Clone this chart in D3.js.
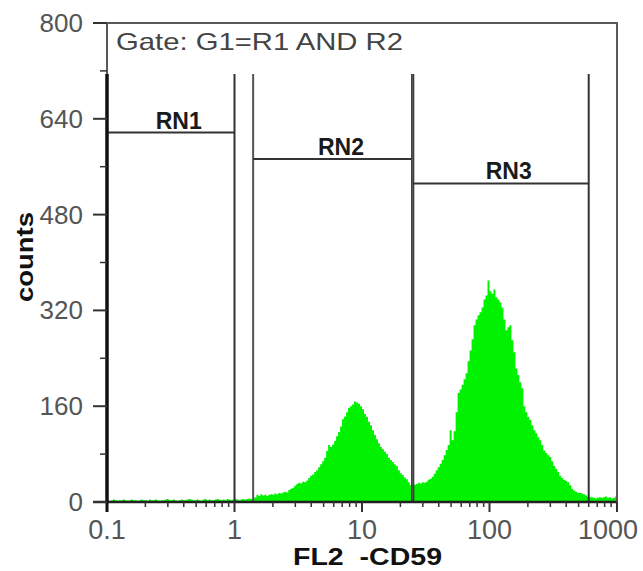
<!DOCTYPE html>
<html><head><meta charset="utf-8">
<script src="https://cdn.jsdelivr.net/npm/d3@7"></script>
<style>html,body{margin:0;padding:0;background:#fff;}svg{display:block;}text{white-space:pre;}</style>
</head><body>
<script>
// ---- data ----
const binsPerDecade = 64;
const xDomain = [0.1, 1000];
const yDomain = [0, 800];
const xTickValues = [0.1, 1, 10, 100, 1000];
const xTickLabels = ["0.1", "1", "10", "100", "1000"];
const yTickValues = [0, 160, 320, 480, 640, 800];
const yTickLabels = ["0", "160", "320", "480", "640", "800"];
const yMinorTicks = [80, 240, 400, 560, 720];
const counts = [
 3,2,3,4,3,2,3,3,4,3,2,3,4,3,3,2,
 3,4,3,3,2,4,3,3,4,3,2,3,3,4,5,3,
 3,4,3,2,3,4,3,3,4,5,4,3,3,4,3,2,
 4,5,3,4,3,3,4,5,4,3,4,3,5,4,3,4,
 5,4,3,4,5,4,5,6,5,6,8,12,10,13,11,12,
 10,12,13,12,14,13,15,14,16,17,16,20,22,24,27,30,
 32,31,34,33,36,40,44,46,50,53,58,63,68,74,85,95,
 92,96,102,110,117,126,138,143,150,157,160,163,168,166,164,160,
 155,147,142,134,128,120,112,105,98,92,88,84,80,74,70,67,
 63,60,53,48,45,41,38,33,28,27,29,30,32,31,33,32,
 34,37,39,42,47,53,58,64,70,78,87,95,120,103,118,150,
 182,188,196,205,215,235,253,272,295,305,312,317,325,338,345,370,
 352,348,355,342,338,333,325,305,287,292,295,270,250,223,212,200,
 190,160,150,142,137,128,120,115,108,103,95,86,82,78,75,68,
 60,55,50,44,40,37,35,33,28,22,19,17,15,15,14,13,
 11,9,8,8,7,6,7,8,7,8,9,7,8,6,7,9
];
const gateNames = ["RN1", "RN2", "RN3"];
const gateLow = [0.1, 1.4, 25];
const gateHigh = [1.0, 25, 600];
const gateLevel = [617, 573, 532];
const gateTop = 715;
const gateText = "Gate: G1=R1 AND R2";
const xTitle = "FL2  -CD59";
const yTitle = "counts";

// ---- chart ----
const W = 643, H = 571;
const svg = d3.select("body").append("svg").attr("width", W).attr("height", H);
const x = d3.scaleLog().domain(xDomain).range([107, 617]);
const y = d3.scaleLinear().domain(yDomain).range([502, 23]);
const font = "'Liberation Sans', Arial, sans-serif";

// histogram
const pts = counts.map((c, i) => ({ lo: Math.pow(10, Math.log10(xDomain[0]) + i / binsPerDecade), v: c }));
pts.push({ lo: xDomain[1], v: counts[counts.length - 1] });
const area = d3.area().x(d => x(d.lo)).y0(y(0)).y1(d => y(d.v)).curve(d3.curveStepAfter);
svg.append("path").datum(pts).attr("d", area).attr("fill", "#00f200");

// frame (top & right)
svg.append("path")
  .attr("d", `M${x(xDomain[0]) - 14},${y(800)}H${x(xDomain[1])}V${y(0)}`)
  .attr("fill", "none").attr("stroke", "#5a5a5a").attr("stroke-width", 2);
svg.append("line").attr("x1", x(xDomain[0])).attr("x2", x(xDomain[0]))
  .attr("y1", y(800)).attr("y2", y(0)).attr("stroke", "#5a5a5a").attr("stroke-width", 2);

// gates
const g = svg.append("g");
gateNames.forEach((name, i) => {
  const x0 = x(gateLow[i]), x1 = x(gateHigh[i]);
  g.append("line").attr("x1", x0).attr("x2", x0).attr("y1", y(gateTop)).attr("y2", y(0))
    .attr("stroke", i === 0 ? "#111" : "#555").attr("stroke-width", i === 0 ? 3 : 2);
  g.append("line").attr("x1", x1).attr("x2", x1).attr("y1", y(gateTop)).attr("y2", y(0))
    .attr("stroke", i === 1 ? "#000" : "#333").attr("stroke-width", i === 1 ? 3 : 2);
  g.append("line").attr("x1", x0).attr("x2", x1).attr("y1", y(gateLevel[i])).attr("y2", y(gateLevel[i]))
    .attr("stroke", "#333").attr("stroke-width", 2);
  g.append("text").attr("x", (x0 + x1) / 2 + 8).attr("y", y(gateLevel[i]) - 4)
    .attr("text-anchor", "middle").attr("font-family", font).attr("font-weight", "bold")
    .attr("font-size", 23).attr("fill", "#1a1a1a").text(name);
});

// gate caption
svg.append("text").attr("x", 116).attr("y", 50).attr("font-family", font).attr("font-size", 24)
  .attr("fill", "#444").attr("textLength", 287).attr("lengthAdjust", "spacingAndGlyphs").text(gateText);

// x axis
const xAxisG = svg.append("g");
xAxisG.append("line").attr("x1", x(xDomain[0]) - 14).attr("x2", x(xDomain[1]))
  .attr("y1", y(0)).attr("y2", y(0)).attr("stroke", "#222").attr("stroke-width", 2.5);
const xMinor = [];
for (let d = 0.1; d < 1000; d *= 10) for (let k = 2; k <= 9; k++) xMinor.push(d * k);
xAxisG.selectAll("line.mn").data(xMinor).join("line").attr("class", "mn")
  .attr("x1", d => x(d)).attr("x2", d => x(d)).attr("y1", y(0)).attr("y2", y(0) + 5)
  .attr("stroke", "#333").attr("stroke-width", 1.5);
xAxisG.selectAll("line.mj").data(xTickValues).join("line").attr("class", "mj")
  .attr("x1", d => x(d)).attr("x2", d => x(d)).attr("y1", y(0)).attr("y2", y(0) + 10)
  .attr("stroke", "#333").attr("stroke-width", 2);
xAxisG.selectAll("text").data(xTickValues).join("text")
  .attr("x", d => Math.min(x(d), W - 35)).attr("y", 539)
  .attr("text-anchor", "middle").attr("font-family", font).attr("font-size", 27)
  .attr("fill", "#555").text((d, i) => xTickLabels[i]);

// y axis
const yAxisG = svg.append("g");
yAxisG.append("line").attr("x1", x(xDomain[0])).attr("x2", x(xDomain[0]))
  .attr("y1", y(gateTop)).attr("y2", y(0) + 10).attr("stroke", "#111").attr("stroke-width", 3);
yAxisG.selectAll("line.mn").data(yMinorTicks).join("line").attr("class", "mn")
  .attr("x1", x(xDomain[0]) - 7).attr("x2", x(xDomain[0])).attr("y1", d => y(d)).attr("y2", d => y(d))
  .attr("stroke", "#333").attr("stroke-width", 1.5);
yAxisG.selectAll("line.mj").data(yTickValues).join("line").attr("class", "mj")
  .attr("x1", x(xDomain[0]) - 14).attr("x2", x(xDomain[0])).attr("y1", d => y(d)).attr("y2", d => y(d))
  .attr("stroke", "#333").attr("stroke-width", 2);
yAxisG.selectAll("text").data(yTickValues).join("text")
  .attr("x", 83).attr("y", d => y(d) + 9)
  .attr("text-anchor", "end").attr("font-family", font).attr("font-size", 26)
  .attr("fill", "#555").text((d, i) => yTickLabels[i]);

// titles
svg.append("text").attr("x", 293).attr("y", 565).attr("font-family", font).attr("font-weight", "bold")
  .attr("font-size", 23).attr("fill", "#111").attr("textLength", 149).attr("lengthAdjust", "spacingAndGlyphs")
  .attr("xml:space", "preserve").text(xTitle);
svg.append("text").attr("transform", "translate(33,302) rotate(-90)").attr("font-family", font)
  .attr("font-weight", "bold").attr("font-size", 24).attr("fill", "#111")
  .attr("textLength", 90).attr("lengthAdjust", "spacingAndGlyphs").text(yTitle);
</script>
</body></html>
